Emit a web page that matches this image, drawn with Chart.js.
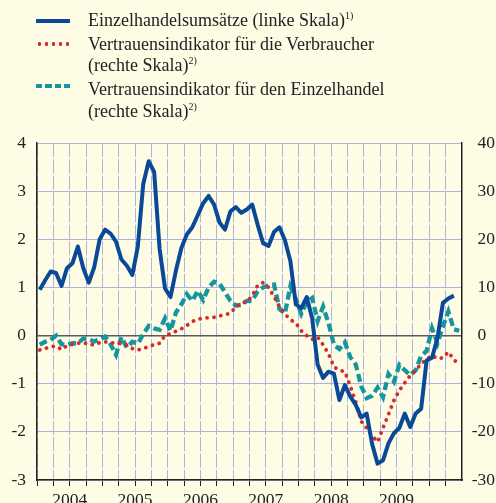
<!DOCTYPE html>
<html>
<head>
<meta charset="utf-8">
<script src="https://cdn.jsdelivr.net/npm/chart.js@4"></script>
<style>
  html, body { margin: 0; padding: 0; background: #fffce6; }
  #wrap { position: relative; width: 496px; height: 503px; overflow: hidden; }
  #legend { position: absolute; left: 0; top: 0; font-family: "Liberation Serif", serif; font-size: 18px; color: #222; }
  #legend .txt { position: absolute; left: 88px; top: 10px; line-height: 21.7px; white-space: nowrap; }
  #legend sup { font-size: 10px; vertical-align: baseline; position: relative; top: -7px; }
  .sample { position: absolute; left: 36px; width: 34px; }
  .s-blue { top: 19px; height: 4px; background: #0a4898; }
  .s-red { top: 41.5px; height: 4px; background: radial-gradient(circle, #d42a2a 1.7px, transparent 2px) 0 0 / 7px 4px repeat-x; }
  .s-teal { top: 84px; height: 4px; background: repeating-linear-gradient(to right, #1495a0 0 6px, transparent 6px 9.5px); }
  canvas { position: absolute; left: 0; top: 0; }
</style>
</head>
<body>
<div id="wrap">
  <canvas id="chart" width="496" height="503"></canvas>
  <div id="legend">
    <div class="sample s-blue"></div>
    <div class="sample s-red"></div>
    <div class="sample s-teal"></div>
    <div class="txt">
      Einzelhandelsumsätze (linke Skala)<sup>1)</sup><br>
      Vertrauensindikator für die Verbraucher<br>
      (rechte Skala)<sup>2)</sup><br>
      Vertrauensindikator für den Einzelhandel<br>
      (rechte Skala)<sup>2)</sup>
    </div>
  </div>
</div>
<script>
// monthly categories, Jan 2004 - Jun 2010
const years = [2004, 2005, 2006, 2007, 2008, 2009, 2010];
const months = [];
years.forEach((y) => {
  for (let m = 1; m <= 12; m++) {
    if (months.length < 78) months.push(y + "-" + String(m).padStart(2, "0"));
  }
});

// Einzelhandelsumsätze (linke Skala)
const retailSales = [
  0.95, 1.15, 1.33, 1.30, 1.03, 1.40, 1.50, 1.85, 1.40, 1.10, 1.42, 2.00,
  2.20, 2.12, 1.95, 1.58, 1.45, 1.26, 1.85, 3.15, 3.62, 3.40, 1.80, 0.98,
  0.80, 1.35, 1.82, 2.10, 2.25, 2.50, 2.75, 2.90, 2.72, 2.35, 2.20, 2.58,
  2.67, 2.55, 2.62, 2.72, 2.30, 1.92, 1.86, 2.15, 2.25, 1.98, 1.55, 0.65,
  0.57, 0.80, 0.36, -0.60, -0.88, -0.75, -0.79, -1.34, -1.03, -1.27, -1.44, -1.70,
  -1.62, -2.25, -2.66, -2.59, -2.24, -2.03, -1.92, -1.62, -1.90, -1.62, -1.52, -0.52,
  -0.46, -0.05, 0.68, 0.77, 0.83, null
];

// Vertrauensindikator für die Verbraucher (rechte Skala)
const consumerConf = [
  -3.0, -2.7, -2.3, -2.2, -2.9, -2.1, -1.85, -1.6, -1.4, -1.9, -1.9, -1.5,
  -1.3, -1.45, -1.6, -1.6, -2.0, -2.7, -3.0, -2.7, -2.3, -1.9, -1.6, 0.0,
  0.4, 0.9, 1.4, 2.1, 2.9, 3.4, 3.6, 3.7, 3.8, 4.1, 4.3, 4.7,
  5.9, 6.8, 7.0, 8.3, 10.4, 11.0, 10.0, 8.1, 6.0, 4.5, 3.3, 2.6,
  1.0, 0.0, -0.8, -0.3, -1.9, -3.8, -6.5, -7.2, -7.5, -10.5, -13.8, -17.8,
  -19.2, -20.8, -22.1, -19.2, -16.4, -13.5, -11.4, -9.8, -8.3, -7.2, -5.9, -4.9,
  -4.1, -4.8, -4.6, -3.4, -5.0, -6.0
];

// Vertrauensindikator für den Einzelhandel (rechte Skala)
const retailConf = [
  -1.9, -1.3, -0.9, 0.0, -1.8, -1.9, -1.6, -1.6, -0.6, -0.8, -1.2, -0.8,
  -0.2, -1.8, -4.0, -0.3, -2.5, -1.3, -1.7, 0.3, 2.0, 1.5, 1.2, 3.6,
  1.0, 4.8, 6.5, 8.6, 7.2, 9.3, 7.4, 10.0, 11.2, 10.8, 9.0, 7.2,
  6.2, 6.4, 7.2, 7.2, 9.2, 10.0, 10.4, 10.6, 5.5, 4.6, 10.2, 7.6,
  4.5, 7.0, 7.8, 3.0, 6.0, 2.6, -1.9, -2.8, -1.4, -4.5, -6.0, -10.5,
  -13.0, -12.5, -10.8, -12.8, -8.0, -9.6, -6.1, -7.2, -8.2, -7.2, -4.2, -3.2,
  1.5, -1.6, 1.9, 5.0, 1.3, 1.0
];

const gridBlue = "#a9b4e2";
const axisColor = "#222";
const tickFont = { family: "Liberation Serif", size: 17.5 };
// one quarter = 3 month cells of the 425px wide plot
const quarterPx = 425 / 26;

new Chart(document.getElementById("chart"), {
  type: "line",
  data: {
    labels: months,
    datasets: [
      {
        label: "Einzelhandelsumsätze (linke Skala)",
        data: retailSales,
        yAxisID: "y",
        borderColor: "#0a4898",
        borderWidth: 4,
        borderJoinStyle: "round",
        pointRadius: 0,
        tension: 0,
      },
      {
        label: "Vertrauensindikator für die Verbraucher (rechte Skala)",
        data: consumerConf,
        yAxisID: "y2",
        borderColor: "#d42a2a",
        borderWidth: 3.8,
        borderDash: [0.1, 6.9],
        borderCapStyle: "round",
        pointRadius: 0,
        tension: 0,
      },
      {
        label: "Vertrauensindikator für den Einzelhandel (rechte Skala)",
        data: retailConf,
        yAxisID: "y2",
        borderColor: "#1495a0",
        borderWidth: 4.3,
        borderDash: [8, 4],
        pointRadius: 0,
        tension: 0,
      },
    ],
  },
  options: {
    responsive: false,
    animation: false,
    devicePixelRatio: 1,
    layout: { padding: { top: 143, left: 0, right: 1, bottom: 0 } },
    plugins: { legend: { display: false }, tooltip: { enabled: false } },
    scales: {
      x: {
        type: "category",
        offset: true,
        afterFit: (scale) => { scale.height = 23; },
        grid: {
          offset: true,
          color: (ctx) => (ctx.index % 3 === 0 ? gridBlue : "transparent"),
          tickColor: (ctx) => (ctx.index % 3 === 0 ? axisColor : "transparent"),
          tickLength: 6,
          lineWidth: 1,
        },
        border: { color: axisColor, width: 1.5, dash: [quarterPx - 2.2, 2.2] },
        ticks: {
          autoSkip: false,
          maxRotation: 0,
          minRotation: 0,
          padding: 4,
          labelOffset: 2.72,
          color: axisColor,
          font: tickFont,
          callback: function (value, index) {
            return index % 12 === 5 && index < 72
              ? this.getLabelForValue(value).slice(0, 4)
              : "";
          },
        },
      },
      y: {
        position: "left",
        min: -3,
        max: 4,
        afterFit: (scale) => { scale.width = 37; },
        grid: {
          drawTicks: false,
          color: (ctx) => (ctx.tick && ctx.tick.value === 0 ? "#5a5a5a" : gridBlue),
          lineWidth: (ctx) => (ctx.tick && ctx.tick.value === 0 ? 1.5 : 1),
        },
        border: { color: axisColor, width: 1.5 },
        ticks: { stepSize: 1, padding: 11, color: axisColor, font: tickFont },
      },
      y2: {
        position: "right",
        min: -30,
        max: 40,
        afterFit: (scale) => { scale.width = 33; },
        grid: { display: false, drawTicks: false },
        border: { color: axisColor, width: 1.5 },
        ticks: {
          stepSize: 10,
          crossAlign: "far",
          color: axisColor,
          font: tickFont,
          // keep the single "0" under the digits of the other labels
          callback: (value) => (value === 0 ? "0\u2007" : String(value)),
        },
      },
    },
  },
});
</script>
</body>
</html>
